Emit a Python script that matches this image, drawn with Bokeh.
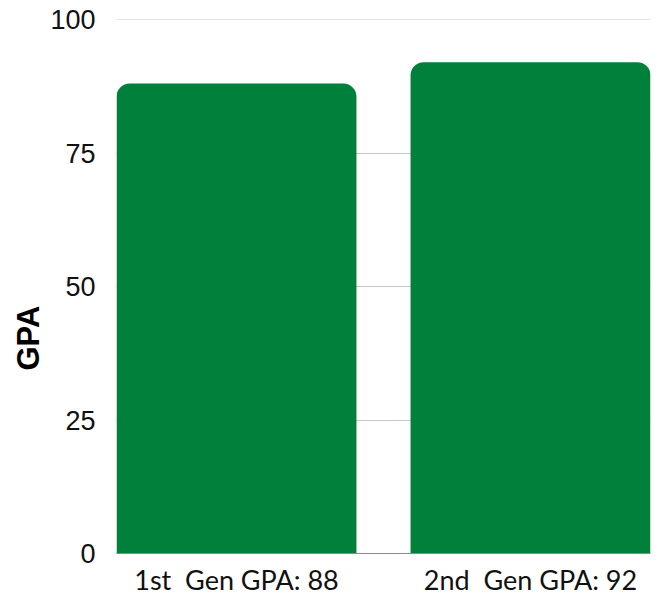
from bokeh.plotting import figure
from bokeh.models import ColumnDataSource, Range1d, FixedTicker, Title, Span
from bokeh.embed import file_html
from bokeh.resources import INLINE

categories = ["1st  Gen GPA: 88", "2nd  Gen GPA: 92"]
gpa_values = [88, 92]
y_ticks = [0, 25, 50, 75, 100]

xs = [i + 0.5 for i in range(len(categories))]
source = ColumnDataSource(dict(x=xs, top=gpa_values, label=categories))

p = figure(width=662, height=598, output_backend="svg", toolbar_location=None,
           x_range=Range1d(0.092, 1.908), y_range=Range1d(0, 100),
           min_border_left=116, min_border_right=12, min_border_top=19,
           min_border_bottom=45)
p.outline_line_color = None
p.background_fill_color = "white"

p.xgrid.grid_line_color = None
p.ygrid.ticker = FixedTicker(ticks=y_ticks)
p.ygrid.grid_line_color = "#c8c8c8"
p.ygrid.grid_line_width = 1

# top gridline (at the frame edge)
p.add_layout(Span(location=y_ticks[-1], dimension="width",
                  line_color="#c8c8c8", line_width=1))

p.vbar(x="x", top="top", width=0.816, bottom=0, source=source,
       fill_color="#00803A", line_color=None,
       border_radius=(13, 13, 0, 0))

# y axis
p.yaxis.ticker = FixedTicker(ticks=y_ticks)
p.yaxis.axis_line_color = None
p.yaxis.major_tick_line_color = None
p.yaxis.minor_tick_line_color = None
p.yaxis.major_tick_out = 0
p.yaxis.major_tick_in = 0
p.yaxis.major_label_text_font = "Liberation Sans"
p.yaxis.major_label_text_font_size = "27px"
p.yaxis.major_label_text_color = "#111111"
p.yaxis.major_label_standoff = 21

p.add_layout(Title(text="GPA", align="left", offset=183,
                   text_font="Liberation Sans", text_font_style="bold",
                   text_font_size="31px", text_color="#000000",
                   standoff=4), "left")

# x axis
p.xaxis.ticker = FixedTicker(ticks=xs)
p.xaxis.major_label_overrides = {x: c.replace("  ", "\u00a0 ") for x, c in zip(xs, categories)}
p.xaxis.axis_line_color = "#8a8a8a"
p.xaxis.axis_line_width = 1
p.xaxis.major_tick_line_color = None
p.xaxis.minor_tick_line_color = None
p.xaxis.major_tick_out = 0
p.xaxis.major_tick_in = 0
p.xaxis.major_label_text_font = "Lato"
p.xaxis.major_label_text_font_size = "27px"
p.xaxis.major_label_text_color = "#111111"
p.xaxis.major_label_standoff = 9

open("out.html", "w").write(file_html(p, INLINE))
